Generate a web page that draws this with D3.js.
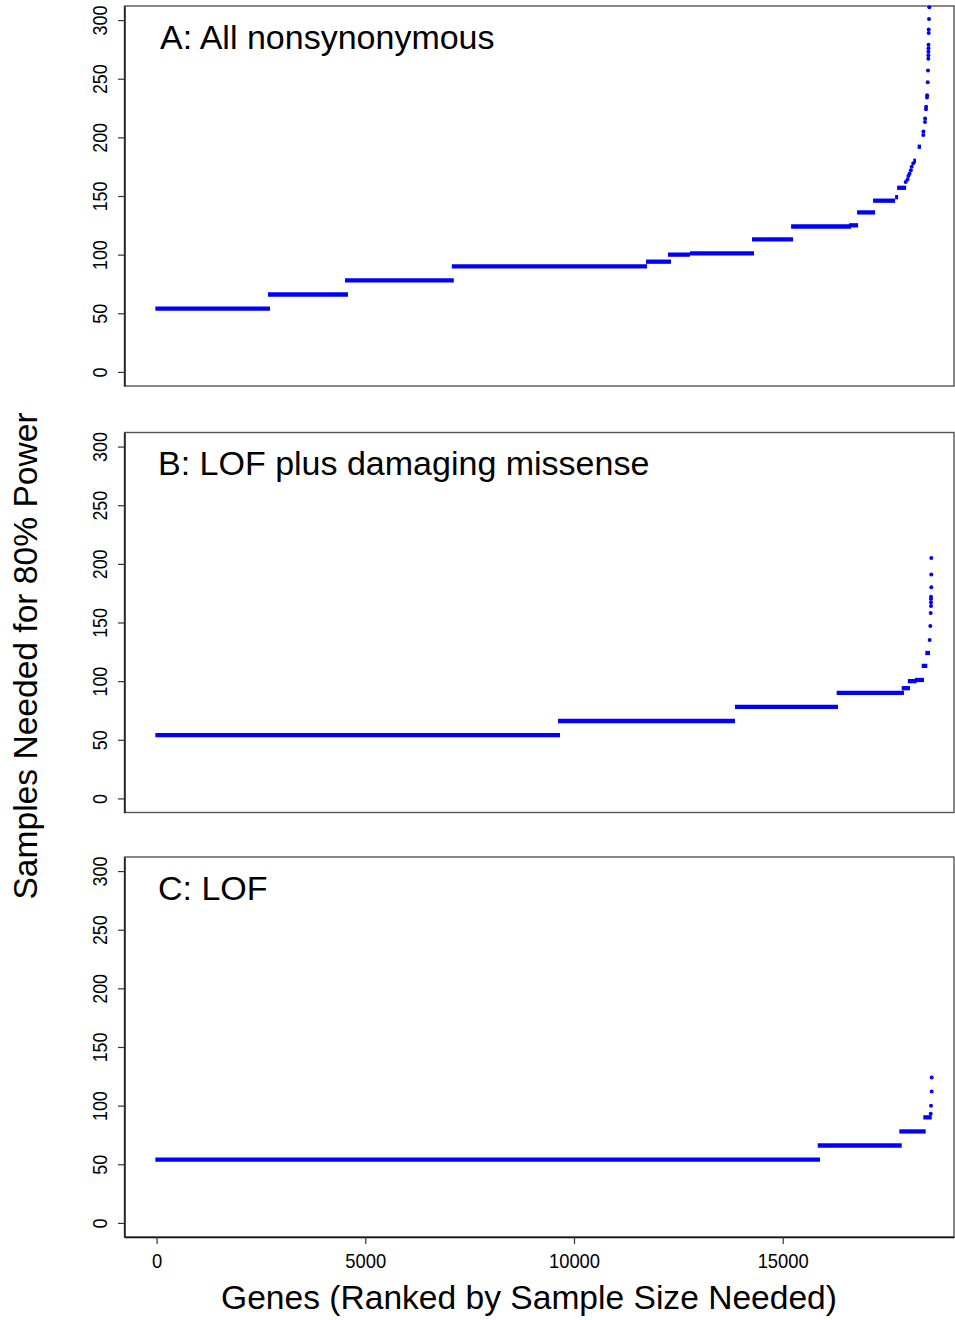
<!DOCTYPE html>
<html>
<head>
<meta charset="utf-8">
<script src="https://cdn.jsdelivr.net/npm/d3@7"></script>
<style>
  body { margin: 0; background: #fff; }
  text { font-family: Arial, "Liberation Sans", sans-serif; fill: #000; }
</style>
</head>
<body>
<div id="container"></div>
<script>
/* CONSTANTS AND GLOBALS */
const width = 955
const height = 1320
const left = 124.5
const right = 954
const panelTops = [6, 432.5, 857]
const panelH = 380

// DATA: [firstRank, lastRank, samplesNeeded] for each flat run, then the scattered tail genes
const panelTitles = ["A: All nonsynonymous", "B: LOF plus damaging missense", "C: LOF"]
const yTicks = [0, 50, 100, 150, 200, 250, 300]
const xTicks = [0, 5000, 10000, 15000]

const stepsA = [
  [-30, 2717, 54], [2669, 4585, 66], [4514, 7120, 78], [7072, 11750, 90],
  [11725, 12324, 94], [12252, 12780, 100], [12780, 14313, 101], [14265, 15249, 113],
  [15201, 16638, 124], [16590, 16806, 125], [16782, 17213, 136], [17165, 17693, 146],
  [17693, 17765, 149], [17741, 17957, 157], [18129, 18193, 180], [18233, 18313, 192]
]
const tailA = [
  [17946, 162], [17990, 164], [18010, 167], [18040, 169], [18070, 172], [18090, 175],
  [18129, 178], [18369, 202], [18372, 205], [18409, 213], [18412, 216], [18433, 224],
  [18436, 226], [18457, 234], [18460, 236], [18473, 247], [18481, 257], [18489, 267],
  [18490, 270], [18491, 273], [18492, 276], [18493, 279], [18497, 289], [18498, 292],
  [18505, 301], [18512, 311]
]

const stepsB = [
  [-30, 9665, 54], [9617, 13857, 66], [13857, 16325, 78], [16293, 17906, 90],
  [17851, 18050, 94], [17998, 18210, 100], [18170, 18386, 101], [18330, 18464, 113],
  [18416, 18529, 124]
]
const tailB = [
  [18521, 135], [18536, 147], [18546, 158], [18553, 164], [18553, 167], [18553, 170],
  [18553, 172], [18560, 180], [18560, 191], [18560, 205]
]

const stepsC = [
  [-30, 15893, 54], [15839, 17851, 66], [17794, 18426, 78], [18369, 18570, 90]
]
const tailC = [
  [18546, 93], [18553, 100], [18570, 112], [18570, 124]
]

const panels = [
  { title: panelTitles[0], steps: stepsA, tail: tailA, titleX: 160 },
  { title: panelTitles[1], steps: stepsB, tail: tailB, titleX: 158 },
  { title: panelTitles[2], steps: stepsC, tail: tailC, titleX: 158 }
]

const svg = d3.select("#container")
  .append("svg")
  .attr("width", width)
  .attr("height", height)

// SCALES
const xScale = d3.scaleLinear()
  .domain([-769, 19104])
  .range([left, right])

panels.forEach((p, i) => {
  const top = panelTops[i]
  const yScale = d3.scaleLinear()
    .domain([-12, 312])
    .range([top + panelH, top])

  const g = svg.append("g").attr("class", "panel")

  // frame
  g.append("rect")
    .attr("x", left)
    .attr("y", top)
    .attr("width", right - left)
    .attr("height", panelH)
    .attr("fill", "none")
    .attr("stroke", "#555")
    .attr("stroke-width", 1.4)

  // y axis
  const yAxis = d3.axisLeft(yScale)
    .tickValues(yTicks)
    .tickSize(6.5)
    .tickSizeOuter(0)

  const yAxisGroup = g.append("g")
    .attr("transform", `translate(${left}, 0)`)
    .call(yAxis)
  yAxisGroup.select(".domain").attr("stroke", "#111").attr("stroke-width", 1.4)
  yAxisGroup.selectAll(".tick line").attr("stroke", "#333").attr("stroke-width", 1.2)
  yAxisGroup.selectAll(".tick text")
    .attr("transform", "rotate(-90) scale(0.85, 1)")
    .attr("x", 0)
    .attr("y", -17.5)
    .attr("dy", 0)
    .attr("text-anchor", "middle")
    .attr("font-size", 21)
    .attr("font-family", "Arial, 'Liberation Sans', sans-serif")
    .attr("fill", "#111")

  // flat runs
  g.selectAll(".step")
    .data(p.steps)
    .join("line")
    .attr("class", "step")
    .attr("x1", d => xScale(d[0]))
    .attr("x2", d => xScale(d[1]))
    .attr("y1", d => yScale(d[2]))
    .attr("y2", d => yScale(d[2]))
    .attr("stroke", "#0000ff")
    .attr("stroke-width", 4.3)

  // tail genes
  g.selectAll(".pt")
    .data(p.tail)
    .join("circle")
    .attr("class", "pt")
    .attr("cx", d => xScale(d[0]))
    .attr("cy", d => yScale(d[1]))
    .attr("r", 2)
    .attr("fill", "#0000ff")

  g.append("text")
    .attr("x", p.titleX)
    .attr("y", top + 42.5)
    .attr("font-size", 34)
    .text(p.title)

  if (i === panels.length - 1) {
    const xAxis = d3.axisBottom(xScale)
      .tickValues(xTicks)
      .tickSize(7)
      .tickSizeOuter(0)
      .tickFormat(d3.format("d"))

    const xAxisGroup = g.append("g")
      .attr("transform", `translate(0, ${top + panelH})`)
      .call(xAxis)
    xAxisGroup.select(".domain").attr("stroke", "#111").attr("stroke-width", 1.4)
    xAxisGroup.selectAll(".tick line").attr("stroke", "#333").attr("stroke-width", 1.2)
    xAxisGroup.selectAll(".tick text")
      .attr("y", 0)
      .attr("dy", 0)
      .attr("transform", "translate(0, 31) scale(0.92, 1)")
      .attr("font-size", 20)
      .attr("font-family", "Arial, 'Liberation Sans', sans-serif")
      .attr("fill", "#111")
  }
})

// axis titles
svg.append("text")
  .attr("text-anchor", "middle")
  .attr("transform", `translate(${37}, ${656}) rotate(-90)`)
  .attr("font-size", 33.6)
  .text("Samples Needed for 80% Power")

svg.append("text")
  .attr("text-anchor", "middle")
  .attr("x", 529)
  .attr("y", 1309)
  .attr("font-size", 33.6)
  .text("Genes (Ranked by Sample Size Needed)")
</script>
</body>
</html>
